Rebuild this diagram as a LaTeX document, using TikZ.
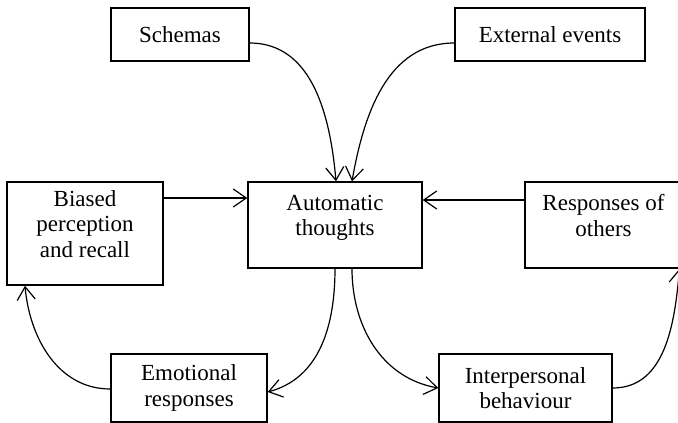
\documentclass[tikz,border=0pt]{standalone}
\usepackage{fontspec}
\setmainfont{Liberation Serif}
\usepackage{tikz}
\usetikzlibrary{arrows.meta}

\begin{document}
\begin{tikzpicture}[
    x=1pt, y=-1pt,
    box/.style={rectangle, draw=black, line width=1.4pt, align=center,
                font=\fontsize{23}{25.5}\selectfont, inner sep=0pt},
    arr/.style={-{Straight Barb[length=13pt,width=18pt,line width=1.2pt]}, line width=1.2pt},
]
\useasboundingbox (0,0) rectangle (678,423);
\node[box, minimum width=138pt, minimum height=53pt] (schemas) at (180,34.5) {Schemas};
\node[box, minimum width=190pt, minimum height=53pt] (external) at (550,34.5) {External events};
\node[box, minimum width=156pt, minimum height=103pt, text depth=19pt] (biased) at (85,233.5) {Biased\\perception\\and recall};
\node[box, minimum width=174pt, minimum height=86pt, text depth=19pt] (auto) at (335,225) {Automatic\\thoughts};
\node[box, minimum width=157pt, minimum height=86pt, text depth=19pt] (others) at (603.5,225) {Responses of\\others};
\node[box, minimum width=156pt, minimum height=68pt] (emotional) at (189,388) {Emotional\\responses};
\node[box, minimum width=173pt, minimum height=68pt] (interpersonal) at (525.5,388) {Interpersonal\\behaviour};

\draw[arr] ([yshift=-8.5pt]schemas.east) to[out=0,in=95] ([xshift=1pt]auto.north);
\draw[arr] ([yshift=-8.5pt]external.west) to[out=180,in=80] ([xshift=17pt]auto.north);
\draw[arr] ([yshift=35.5pt]biased.east) -- ([yshift=27pt]auto.west);
\draw[arr] ([yshift=25pt]others.west) -- ([yshift=25pt]auto.east);
\draw[arr] (auto.south) to[out=-90,in=15] ([yshift=-4pt]emotional.east);
\draw[arr] ([xshift=17pt]auto.south) to[out=-90,in=170] (interpersonal.west);
\draw[arr] ([yshift=-1pt]emotional.west) to[out=180,in=-85] ([xshift=-60pt]biased.south);
\draw[arr] (interpersonal.east) to[out=0,in=-95] ([xshift=76pt]others.south);
\end{tikzpicture}
\end{document}
